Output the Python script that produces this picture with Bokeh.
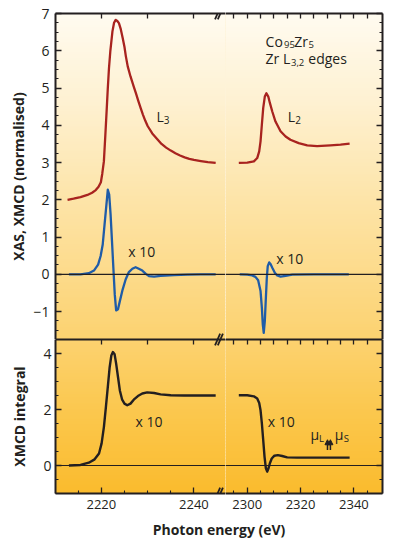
import numpy as np
from bokeh.plotting import figure
from bokeh.models import (LinearAxis, FixedTicker, Range1d, Span, Label, Arrow, NormalHead,
                          BoxAnnotation)
from bokeh.layouts import column, row
from bokeh.embed import file_html
from bokeh.resources import INLINE

# ---------------- data (photon energy in eV) ----------------
xas_l3_e = [2212.7, 2214.0, 2215.5, 2217.0, 2218.0, 2218.8, 2219.4, 2219.9, 2220.2, 2220.55,
            2220.85, 2221.15, 2221.4, 2221.65, 2221.95, 2222.4, 2222.75, 2223.1, 2223.45, 2223.8,
            2224.2, 2224.6, 2225.0, 2225.3, 2225.7, 2226.3, 2227.0, 2227.5, 2228.0, 2228.5,
            2229.0, 2229.5, 2230.0, 2231.0, 2232.0, 2233.0, 2234.0, 2235.0, 2236.0, 2237.0,
            2238.0, 2239.0, 2240.0, 2241.5, 2243.0, 2244.7]
xas_l3 = [2.00, 2.03, 2.07, 2.13, 2.19, 2.26, 2.35, 2.47, 2.70, 3.03,
          3.70, 4.40, 5.00, 5.53, 6.00, 6.52, 6.75, 6.83, 6.80, 6.74,
          6.58, 6.35, 6.10, 5.85, 5.58, 5.31, 5.04, 4.85, 4.65, 4.46,
          4.28, 4.12, 3.98, 3.78, 3.64, 3.50, 3.40, 3.32, 3.25, 3.19,
          3.14, 3.10, 3.07, 3.04, 3.01, 2.99]

xas_l2_e = [2296.85, 2300.0, 2302.5, 2303.75, 2304.5, 2305.0, 2305.5, 2306.0, 2306.6, 2307.2,
            2307.9, 2308.5, 2309.4, 2310.6, 2312.5, 2314.4, 2316.2, 2319.3, 2322.5, 2326.2,
            2331.2, 2335.0, 2338.4]
xas_l2 = [2.99, 3.00, 3.03, 3.12, 3.30, 3.57, 4.02, 4.46, 4.77, 4.86,
          4.77, 4.60, 4.37, 4.10, 3.84, 3.70, 3.61, 3.52, 3.46, 3.44,
          3.46, 3.48, 3.51]

xmcd_l3_e = [2213.0, 2215.5, 2217.3, 2218.4, 2219.3, 2219.85, 2220.3, 2220.7, 2221.1, 2221.4,
             2221.7, 2222.0, 2222.3, 2222.6, 2222.9, 2223.2, 2223.6, 2224.0, 2224.6, 2225.25,
             2225.95, 2226.7, 2227.4, 2228.1, 2228.85, 2229.6, 2230.3, 2231.4, 2232.8, 2235.7,
             2238.6, 2241.5, 2244.7]
xmcd_l3 = [0.00, 0.00, 0.03, 0.10, 0.26, 0.49, 0.80, 1.34, 1.87, 2.27,
           2.14, 1.60, 0.89, 0.17, -0.54, -0.97, -0.94, -0.72, -0.41, -0.14,
           0.06, 0.15, 0.19, 0.15, 0.10, 0.01, -0.05, -0.06, -0.04, -0.02,
           -0.01, 0.00, 0.00]

xmcd_l2_e = [2297.2, 2300.0, 2301.9, 2303.1, 2304.1, 2305.0, 2305.5, 2305.85, 2306.2, 2306.6,
             2307.0, 2307.35, 2307.7, 2308.25, 2308.7, 2309.5, 2310.35, 2311.25, 2312.5, 2314.4,
             2316.9, 2325.0, 2338.1]
xmcd_l2 = [0.00, -0.01, -0.03, -0.07, -0.16, -0.45, -0.90, -1.35, -1.57, -1.26,
           -0.63, -0.10, 0.22, 0.32, 0.28, 0.16, 0.04, -0.03, -0.06, -0.04,
           -0.01, 0.00, 0.00]

int_l3_e = [2213.0, 2215.5, 2217.3, 2218.55, 2219.5, 2220.06, 2220.56, 2220.99, 2221.43, 2221.8,
            2222.16, 2222.5, 2222.87, 2223.2, 2223.6, 2224.0, 2224.5, 2225.0, 2225.6, 2226.3,
            2227.0, 2227.9, 2228.85, 2229.9, 2231.4, 2232.8, 2235.0, 2237.9, 2241.45, 2244.7]
int_l3 = [0.00, 0.02, 0.10, 0.22, 0.43, 0.79, 1.38, 2.09, 2.86, 3.51,
          3.93, 4.05, 3.97, 3.64, 3.16, 2.68, 2.35, 2.21, 2.15, 2.21,
          2.35, 2.48, 2.57, 2.61, 2.59, 2.54, 2.51, 2.50, 2.50, 2.50]

int_l2_e = [2296.85, 2300.0, 2302.5, 2303.75, 2304.5, 2305.0, 2305.5, 2306.0, 2306.5, 2307.0,
            2307.5, 2308.0, 2308.5, 2309.2, 2310.2, 2311.5, 2313.1, 2315.0, 2318.75, 2325.0,
            2331.2, 2338.4]
int_l2 = [2.51, 2.51, 2.47, 2.39, 2.23, 1.97, 1.50, 0.91, 0.31, -0.10,
          -0.22, -0.10, 0.08, 0.25, 0.35, 0.37, 0.34, 0.29, 0.28, 0.28,
          0.28, 0.28]

# tick values / labels
top_y_ticks = [-1, 0, 1, 2, 3, 4, 5, 6, 7]
top_y_labels = ["\u22121", "0", "1", "2", "3", "4", "5", "6", "7"]
top_y_minor = [v / 4 for v in range(-6, 28) if v % 4 != 0]
bot_y_ticks = [0, 2, 4]
bot_y_labels = ["0", "2", "4"]
bot_y_minor = [v / 2 for v in range(-2, 9) if v % 4 != 0]
xl_ticks = [2220, 2240]
xl_labels = ["2220", "2240"]
xl_minor = [2215, 2225, 2230, 2235]
xr_ticks = [2300, 2320, 2340]
xr_labels = ["2300", "2320", "2340"]
xr_minor = [2295, 2305, 2310, 2315, 2325, 2330, 2335, 2345]
xl_top_ticks = [2220, 2230, 2240]
xr_top_ticks = [2295, 2300, 2305, 2310, 2315, 2320, 2325, 2330, 2335, 2340, 2345]

# ---------------- style ----------------
INK = "#231f20"
RED = "#a8231f"
BLUE = "#1f5ca8"
FONT = "Open Sans"
XL = (2210.1, 2246.82)
XR = (2291.86, 2350.73)
YT = (-1.75, 7.0)
YB = (-1.0, 4.5)
GRAD_STOPS = [(13, (255, 251, 240)), (100, (254, 241, 210)), (200, (253, 228, 168)),
              (339, (252, 210, 112)), (420, (251, 198, 74)), (493, (250, 187, 45))]
BRK_X = 2245.41       # centre of the axis-break marks (left segment, eV)
BRK_DX = 0.55         # half-width of one stroke (eV)
BRK_GAP = 0.6         # spacing between the two strokes (eV)


def grad_color(py):
    for (y0, c0), (y1, c1) in zip(GRAD_STOPS[:-1], GRAD_STOPS[1:]):
        if py <= y1:
            t = min(max((py - y0) / (y1 - y0), 0.0), 1.0)
            return tuple(int(round(a + (b - a) * t)) for a, b in zip(c0, c1))
    return GRAD_STOPS[-1][1]


def hexc(c):
    return "#%02x%02x%02x" % c


def make(width, height, xr, yr, borders, bg="white"):
    p = figure(width=width, height=height, x_range=Range1d(*xr), y_range=Range1d(*yr),
               output_backend="svg", toolbar_location=None, tools="",
               x_axis_location=None, y_axis_location=None)
    p.min_border_left, p.min_border_right, p.min_border_top, p.min_border_bottom = borders
    p.outline_line_color = None
    p.grid.visible = False
    p.background_fill_color = bg
    p.border_fill_color = "white"
    return p


def background(p, yr, ptop, pbot, step=3):
    """vertical colour gradient behind the frame, built from stacked bands"""
    ppu = (pbot - ptop) / (yr[1] - yr[0])
    py = pbot
    while py > ptop + 0.01:
        top_py = max(py - step, ptop)
        c = grad_color((py + top_py) / 2)
        b_val = yr[0] + (pbot - py) / ppu
        t_val = min(yr[0] + (pbot - top_py + 1.5) / ppu, yr[1])
        p.add_layout(BoxAnnotation(bottom=b_val, top=t_val, fill_color=hexc(c),
                                   fill_alpha=1.0, line_color=None, level="underlay"))
        py = top_py


def axis(p, side, ticks, minor, labels=None, size="13px", standoff=4, tick_in=6,
         minor_in=3, title=None, title_standoff=5):
    ax = LinearAxis(ticker=FixedTicker(ticks=ticks, minor_ticks=minor))
    ax.axis_line_color = INK
    ax.axis_line_width = 2
    ax.major_tick_line_color = INK
    ax.major_tick_line_width = 1.3
    ax.minor_tick_line_color = INK
    ax.minor_tick_line_width = 1.1
    ax.major_tick_in = tick_in
    ax.major_tick_out = 0
    ax.minor_tick_in = minor_in
    ax.minor_tick_out = 0
    if labels is None:
        ax.major_label_overrides = {t: "" for t in ticks}
        ax.major_label_text_font_size = "0px"
        ax.major_label_standoff = 0
    else:
        ax.major_label_overrides = dict(zip(ticks, labels))
        ax.major_label_text_font = FONT
        ax.major_label_text_font_size = size
        ax.major_label_text_color = INK
        ax.major_label_standoff = standoff
    if title:
        ax.axis_label = title
        ax.axis_label_text_font = FONT
        ax.axis_label_text_font_size = "14px"
        ax.axis_label_text_font_style = "bold"
        ax.axis_label_text_color = INK
        ax.axis_label_standoff = title_standoff
    p.add_layout(ax, side)


def txt(p, x, y, s, size="14px", align="left", baseline="alphabetic", bold=False):
    p.add_layout(Label(x=x, y=y, text=s, text_font=FONT, text_font_size=size,
                       text_color=INK, text_align=align, text_baseline=baseline,
                       text_font_style="bold" if bold else "normal"))


def break_mark(p, yc, dy):
    for off in (-BRK_GAP / 2, BRK_GAP / 2):
        p.add_layout(Arrow(start=None, end=None,
                           x_start=BRK_X + off - BRK_DX, y_start=yc - dy,
                           x_end=BRK_X + off + BRK_DX, y_end=yc + dy,
                           line_color=INK, line_width=1.8))


tl = make(225, 339, XL, YT, (55, 0, 13, 0), bg="#fde7b5")
tr = make(161, 339, XR, YT, (0, 4, 13, 0), bg="#fde7b5")
bl = make(225, 178, XL, YB, (55, 0, 0, 24), bg="#fcc95c")
br = make(161, 178, XR, YB, (0, 4, 0, 24), bg="#fcc95c")
tt = make(386, 23, (0, 386), (0, 23), (0, 0, 0, 0))

background(tl, YT, 13, 339)
background(tr, YT, 13, 339)
background(bl, YB, 339, 493)
background(br, YB, 339, 493)

for p in (tl, tr, bl, br):
    p.add_layout(Span(location=0, dimension="width", line_color=INK, line_width=1.2))
for p in (tl, tr):
    p.add_layout(Span(location=YT[0], dimension="width", line_color=INK, line_width=2))

# curves
tl.line(xas_l3_e, xas_l3, line_color=RED, line_width=2.3, line_join="round")
tl.line(xmcd_l3_e, xmcd_l3, line_color=BLUE, line_width=2.3, line_join="round")
tr.line(xas_l2_e, xas_l2, line_color=RED, line_width=2.3, line_join="round")
tr.line(xmcd_l2_e, xmcd_l2, line_color=BLUE, line_width=2.3, line_join="round")
bl.line(int_l3_e, int_l3, line_color=INK, line_width=2.4, line_join="round")
br.line(int_l2_e, int_l2, line_color=INK, line_width=2.4, line_join="round")

# axes
axis(tl, "left", top_y_ticks, top_y_minor, top_y_labels, size="14px", standoff=6,
     title="XAS, XMCD (normalised)", title_standoff=2)
axis(tl, "above", xl_top_ticks, [], None, tick_in=5)
axis(tr, "right", top_y_ticks, top_y_minor, None)
axis(tr, "above", xr_top_ticks, [], None, tick_in=5)
axis(bl, "left", bot_y_ticks, bot_y_minor, bot_y_labels, size="14px", standoff=4,
     title="XMCD integral", title_standoff=11)
axis(bl, "above", xl_top_ticks, [], None, tick_in=5)
axis(bl, "below", xl_ticks, xl_minor, xl_labels, size="13px", standoff=6)
axis(br, "right", bot_y_ticks, bot_y_minor, None)
axis(br, "above", xr_top_ticks, [], None, tick_in=5)
axis(br, "below", xr_ticks, xr_minor, xr_labels, size="13px", standoff=6)

# axis-break marks (two slanted strokes), drawn across each horizontal frame edge
break_mark(tl, YT[1], 0.16)
break_mark(tl, YT[0], 0.16)
break_mark(bl, YB[1], 0.21)
break_mark(bl, YB[0], 0.21)

# annotations
txt(tl, 2231.9, 4.24, "L")
txt(tl, 2233.5, 4.13, "3", size="10px")
txt(tl, 2225.8, 0.60, "x 10")
txt(tr, 2306.9, 6.25, "Co")
txt(tr, 2313.8, 6.17, "95", size="9.5px")
txt(tr, 2317.6, 6.25, "Zr")
txt(tr, 2323.0, 6.17, "5", size="9.5px")
txt(tr, 2306.9, 5.79, "Zr L")
txt(tr, 2316.4, 5.69, "3,2", size="9.5px")
txt(tr, 2322.9, 5.79, "edges")
txt(tr, 2315.2, 4.24, "L")
txt(tr, 2318.0, 4.13, "2", size="10px")
txt(tr, 2310.9, 0.42, "x 10")
txt(bl, 2227.4, 1.58, "x 10")
txt(br, 2307.7, 1.58, "x 10")
txt(br, 2323.7, 1.11, "\u03bc")
txt(br, 2326.9, 0.97, "L", size="9.5px")
txt(br, 2332.85, 1.11, "\u03bc")
txt(br, 2336.2, 0.97, "S", size="9.5px")
for ax_x in (2330.1, 2331.2):
    br.add_layout(Arrow(end=NormalHead(size=5, fill_color=INK, line_color=INK, line_width=1),
                        x_start=ax_x, y_start=0.55, x_end=ax_x, y_end=0.92,
                        line_color=INK, line_width=1.5))

txt(tt, 218.5, 11, "Photon energy (eV)", align="center", bold=True)

layout = column(row(tl, tr), row(bl, br), tt)
open("out.html", "w").write(file_html(layout, INLINE))
